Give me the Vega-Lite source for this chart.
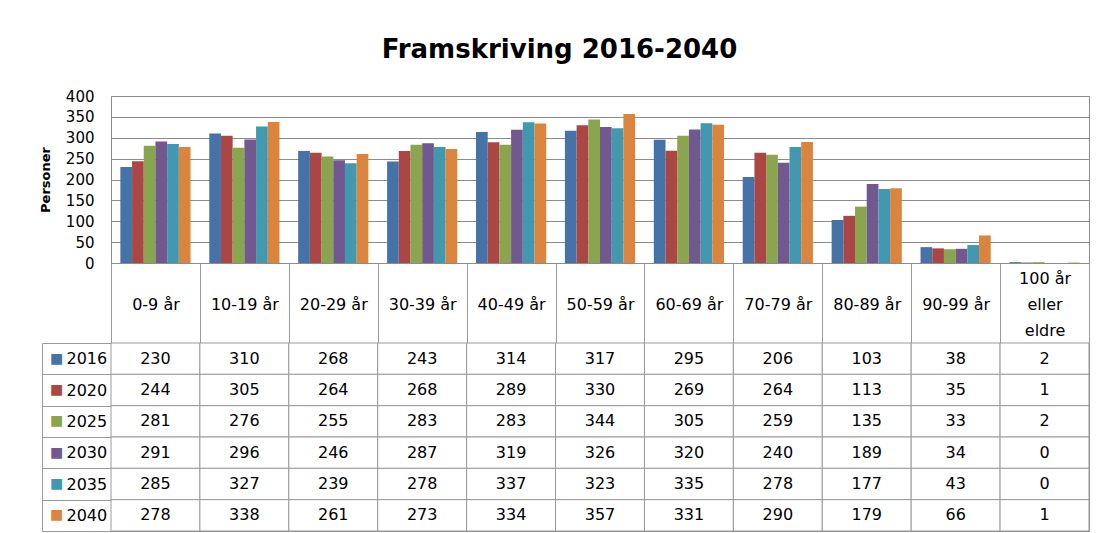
{
  "$schema": "https://vega.github.io/schema/vega-lite/v6.json",
  "background": "white",
  "padding": {"left": 38, "top": 36, "right": 5, "bottom": 0},
  "title": {"text": "Framskriving 2016-2040", "font": "DejaVu Sans", "fontSize": 26, "fontWeight": "bold", "color": "black", "anchor": "middle", "offset": 26, "dx": -5},
  "config": {"font": "DejaVu Sans", "view": {"stroke": "#8c8c8c"}},
  "spacing": 80,
  "bounds": "flush",
  "data": {"values": [
    {"group": "0-9 år", "year": "2016", "value": 230},
    {"group": "0-9 år", "year": "2020", "value": 244},
    {"group": "0-9 år", "year": "2025", "value": 281},
    {"group": "0-9 år", "year": "2030", "value": 291},
    {"group": "0-9 år", "year": "2035", "value": 285},
    {"group": "0-9 år", "year": "2040", "value": 278},
    {"group": "10-19 år", "year": "2016", "value": 310},
    {"group": "10-19 år", "year": "2020", "value": 305},
    {"group": "10-19 år", "year": "2025", "value": 276},
    {"group": "10-19 år", "year": "2030", "value": 296},
    {"group": "10-19 år", "year": "2035", "value": 327},
    {"group": "10-19 år", "year": "2040", "value": 338},
    {"group": "20-29 år", "year": "2016", "value": 268},
    {"group": "20-29 år", "year": "2020", "value": 264},
    {"group": "20-29 år", "year": "2025", "value": 255},
    {"group": "20-29 år", "year": "2030", "value": 246},
    {"group": "20-29 år", "year": "2035", "value": 239},
    {"group": "20-29 år", "year": "2040", "value": 261},
    {"group": "30-39 år", "year": "2016", "value": 243},
    {"group": "30-39 år", "year": "2020", "value": 268},
    {"group": "30-39 år", "year": "2025", "value": 283},
    {"group": "30-39 år", "year": "2030", "value": 287},
    {"group": "30-39 år", "year": "2035", "value": 278},
    {"group": "30-39 år", "year": "2040", "value": 273},
    {"group": "40-49 år", "year": "2016", "value": 314},
    {"group": "40-49 år", "year": "2020", "value": 289},
    {"group": "40-49 år", "year": "2025", "value": 283},
    {"group": "40-49 år", "year": "2030", "value": 319},
    {"group": "40-49 år", "year": "2035", "value": 337},
    {"group": "40-49 år", "year": "2040", "value": 334},
    {"group": "50-59 år", "year": "2016", "value": 317},
    {"group": "50-59 år", "year": "2020", "value": 330},
    {"group": "50-59 år", "year": "2025", "value": 344},
    {"group": "50-59 år", "year": "2030", "value": 326},
    {"group": "50-59 år", "year": "2035", "value": 323},
    {"group": "50-59 år", "year": "2040", "value": 357},
    {"group": "60-69 år", "year": "2016", "value": 295},
    {"group": "60-69 år", "year": "2020", "value": 269},
    {"group": "60-69 år", "year": "2025", "value": 305},
    {"group": "60-69 år", "year": "2030", "value": 320},
    {"group": "60-69 år", "year": "2035", "value": 335},
    {"group": "60-69 år", "year": "2040", "value": 331},
    {"group": "70-79 år", "year": "2016", "value": 206},
    {"group": "70-79 år", "year": "2020", "value": 264},
    {"group": "70-79 år", "year": "2025", "value": 259},
    {"group": "70-79 år", "year": "2030", "value": 240},
    {"group": "70-79 år", "year": "2035", "value": 278},
    {"group": "70-79 år", "year": "2040", "value": 290},
    {"group": "80-89 år", "year": "2016", "value": 103},
    {"group": "80-89 år", "year": "2020", "value": 113},
    {"group": "80-89 år", "year": "2025", "value": 135},
    {"group": "80-89 år", "year": "2030", "value": 189},
    {"group": "80-89 år", "year": "2035", "value": 177},
    {"group": "80-89 år", "year": "2040", "value": 179},
    {"group": "90-99 år", "year": "2016", "value": 38},
    {"group": "90-99 år", "year": "2020", "value": 35},
    {"group": "90-99 år", "year": "2025", "value": 33},
    {"group": "90-99 år", "year": "2030", "value": 34},
    {"group": "90-99 år", "year": "2035", "value": 43},
    {"group": "90-99 år", "year": "2040", "value": 66},
    {"group": "100 år eller eldre", "year": "2016", "value": 2},
    {"group": "100 år eller eldre", "year": "2020", "value": 1},
    {"group": "100 år eller eldre", "year": "2025", "value": 2},
    {"group": "100 år eller eldre", "year": "2030", "value": 0},
    {"group": "100 år eller eldre", "year": "2035", "value": 0},
    {"group": "100 år eller eldre", "year": "2040", "value": 1}
  ]},
  "vconcat": [
    {
      "width": 978,
      "height": 167,
      "mark": {"type": "bar"},
      "encoding": {
        "x": {
          "field": "group", "type": "nominal", "sort": null, "title": null,
          "scale": {"domain": ["0-9 år", "10-19 år", "20-29 år", "30-39 år", "40-49 år", "50-59 år", "60-69 år", "70-79 år", "80-89 år", "90-99 år", "100 år eller eldre"], "paddingInner": 0, "paddingOuter": 0},
          "axis": {
            "orient": "bottom", "tickBand": "extent", "tickSize": 80, "tickColor": "#9a9a9a", "domain": true, "domainColor": "#8c8c8c",
            "labelAngle": 0, "labelFontSize": 16, "labelColor": "black", "labelBaseline": "middle", "labelPadding": -65,
            "labelOverlap": false, "labelBound": false, "labelLimit": 300, "labelLineHeight": 26,
            "labelExpr": "datum.label == '100 år eller eldre' ? ['100 år', 'eller', 'eldre'] : ['', datum.label, '']"
          }
        },
        "xOffset": {
          "field": "year", "type": "nominal",
          "scale": {"domain": ["2016", "2020", "2025", "2030", "2035", "2040"], "paddingInner": 0, "paddingOuter": 0.8}
        },
        "y": {
          "field": "value", "type": "quantitative", "title": "Personer",
          "scale": {"domain": [0, 400], "nice": false},
          "axis": {
            "values": [0, 50, 100, 150, 200, 250, 300, 350, 400], "ticks": false, "domain": false,
            "grid": true, "gridColor": "#8c8c8c", "gridOpacity": 1,
            "labelFontSize": 15, "labelColor": "black", "labelPadding": 17,
            "titleFontSize": 13, "titleFontWeight": "bold", "titleColor": "black", "titlePadding": 13
          }
        },
        "color": {
          "field": "year", "type": "nominal",
          "scale": {"domain": ["2016", "2020", "2025", "2030", "2035", "2040"], "range": ["#4572A7", "#AA4643", "#89A54E", "#71588F", "#4198AF", "#DB843D"]},
          "legend": null
        }
      }
    },
    {
      "width": 978,
      "height": 188,
      "resolve": {"axis": {"y": "independent"}},
      "layer": [
        {
          "mark": {"type": "rect", "fill": "white", "stroke": "#9a9a9a", "strokeWidth": 1},
          "encoding": {
            "x": {"field": "group", "type": "nominal", "sort": null, "axis": null,
              "scale": {"domain": ["0-9 år", "10-19 år", "20-29 år", "30-39 år", "40-49 år", "50-59 år", "60-69 år", "70-79 år", "80-89 år", "90-99 år", "100 år eller eldre"], "paddingInner": 0, "paddingOuter": 0}},
            "y": {"field": "year", "type": "nominal", "sort": null, "title": null,
              "scale": {"domain": ["2016", "2020", "2025", "2030", "2035", "2040"], "paddingInner": 0, "paddingOuter": 0},
              "axis": {
                "orient": "left", "tickBand": "extent", "tickSize": 69, "ticks": true, "tickColor": "#9a9a9a", "domain": false,
                "labelAlign": "left", "labelPadding": -24, "labelFontSize": 16, "labelColor": "black", "labelBaseline": "middle",
                "labelOverlap": false, "labelBound": false
              }
            }
          }
        },
        {
          "mark": {"type": "text", "fontSize": 16, "color": "black", "baseline": "middle"},
          "encoding": {
            "x": {"field": "group", "type": "nominal", "sort": null, "axis": null},
            "y": {"field": "year", "type": "nominal", "sort": null, "title": null,
              "axis": {
                "orient": "left", "offset": 69, "ticks": false, "domain": true, "domainColor": "#9a9a9a",
                "labelAlign": "center", "labelPadding": -14, "labelFontSize": 14, "labelBaseline": "middle",
                "labelOverlap": false, "labelBound": false,
                "labelExpr": "'■'",
                "labelColor": {"condition": [
                  {"test": "datum.value === '2016'", "value": "#4572A7"},
                  {"test": "datum.value === '2020'", "value": "#AA4643"},
                  {"test": "datum.value === '2025'", "value": "#89A54E"},
                  {"test": "datum.value === '2030'", "value": "#71588F"},
                  {"test": "datum.value === '2035'", "value": "#4198AF"}
                ], "value": "#DB843D"}
              }
            },
            "text": {"field": "value", "type": "quantitative"}
          }
        }
      ]
    }
  ]
}
